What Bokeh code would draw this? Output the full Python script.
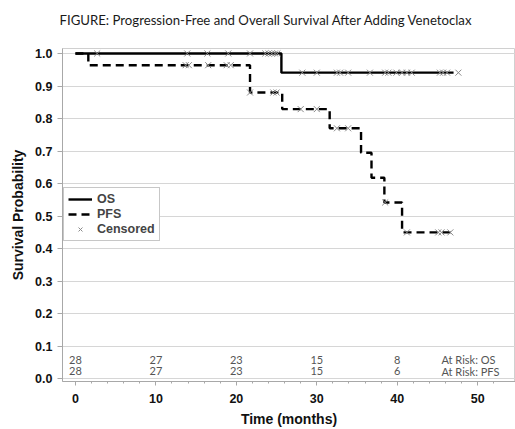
from bokeh.plotting import figure
from bokeh.models import (ColumnDataSource, Range1d, FixedTicker, Legend, LegendItem,
                          NumeralTickFormatter, Title)
from bokeh.core.properties import value
from bokeh.embed import file_html
from bokeh.resources import INLINE

# ---- data ----
os_time = [0, 25.6, 47.0]
os_surv = [1.0, 0.941, 0.941]

pfs_time = [0, 1.6, 21.7, 25.7, 31.6, 35.5, 36.8, 38.4, 40.6, 46.8]
pfs_surv = [1.0, 0.964, 0.880, 0.829, 0.770, 0.695, 0.618, 0.542, 0.450, 0.450]

os_cens_time = [2.7, 13.9, 16.4, 19.0, 21.7, 23.6, 24.0, 24.4, 24.8, 25.1,
                28.2, 30.0, 32.5, 32.9, 33.9, 36.6, 38.5, 38.9, 39.9, 40.6,
                41.2, 41.8, 45.3, 45.7, 46.2, 47.6]
os_cens_surv = [1.0] * 10 + [0.941] * 16

pfs_cens_time = [13.7, 14.1, 16.5, 18.8, 19.3, 21.7, 24.6, 25.0, 28.0, 30.0,
                 32.5, 33.9, 38.5, 41.2, 45.1, 45.5, 46.6]
pfs_cens_surv = [0.964] * 5 + [0.880] * 3 + [0.829] * 2 + [0.770] * 2 + [0.542] + [0.450] * 4

risk_times = [0, 10, 20, 30, 40]
risk_os = [28, 27, 23, 15, 8]
risk_pfs = [28, 27, 23, 15, 6]
risk_label_os = "At Risk: OS"
risk_label_pfs = "At Risk: PFS"

x_ticks = [0, 10, 20, 30, 40, 50]
y_ticks = [0.0, 0.1, 0.2, 0.3, 0.4, 0.5, 0.6, 0.7, 0.8, 0.9, 1.0]

title_text = "FIGURE: Progression-Free and Overall Survival After Adding Venetoclax"

# ---- figure ----
p = figure(width=515, height=429, output_backend="svg", toolbar_location=None, title=None,
           x_range=Range1d(-1.61, 54.7), y_range=Range1d(-0.0083, 1.0153),
           min_border_left=62, min_border_right=0, min_border_top=48, min_border_bottom=47)

# spacer (closest to the frame) then the real title above it
p.add_layout(Title(text=" ", text_font_size="8px", standoff=0), "above")
p.add_layout(Title(text=title_text, text_font="Lato", text_font_size="13.2px",
                   text_font_style="normal", text_color="#1a1a1a", align="left",
                   offset=-3, standoff=18, vertical_align="middle"), "above")

p.outline_line_color = "#d0d0d0"
p.xgrid.grid_line_color = None
p.ygrid.grid_line_color = "#d6d6d6"
p.ygrid.grid_line_width = 1

for ax in (p.xaxis[0], p.yaxis[0]):
    ax.axis_line_color = "#a8a8a8"
    ax.major_tick_line_color = "#a8a8a8"
    ax.minor_tick_line_color = "#a8a8a8"
    ax.major_label_text_font = "Liberation Sans"
    ax.major_label_text_font_style = "bold"
    ax.major_label_text_font_size = "12.5px"
    ax.major_label_text_color = "#111111"
    ax.axis_label_text_font = "Liberation Sans"
    ax.axis_label_text_font_style = "bold"
    ax.axis_label_text_font_size = "14px"
    ax.axis_label_text_color = "#111111"

p.xaxis.ticker = FixedTicker(ticks=x_ticks, minor_ticks=[t for t in range(0, 54, 2)])
p.yaxis.ticker = FixedTicker(ticks=y_ticks, minor_ticks=[])
p.yaxis.formatter = NumeralTickFormatter(format="0.0")
p.xaxis.axis_label = "Time (months)"
p.yaxis.axis_label = "Survival Probability"
p.xaxis.major_tick_out = 4
p.xaxis.minor_tick_out = 2
p.xaxis.minor_tick_in = 0
p.xaxis.major_tick_in = 0
p.xaxis.major_label_standoff = 8
p.xaxis.axis_label_standoff = 5
p.yaxis.major_tick_out = 5
p.yaxis.major_tick_in = 0
p.yaxis.axis_label_standoff = 6

# survival curves
r_os = p.step(os_time, os_surv, mode="after", line_color="black", line_width=2.4)
r_pfs = p.step(pfs_time, pfs_surv, mode="after", line_color="black", line_width=2.4,
               line_dash="8 5")

# censor marks
r_c1 = p.scatter(os_cens_time, os_cens_surv, marker="x", size=8.5, line_color="#8a8a8a",
                 line_width=1)
r_c2 = p.scatter(pfs_cens_time, pfs_cens_surv, marker="x", size=8.5, line_color="#8a8a8a",
                 line_width=1)

# at-risk table
risk_src = ColumnDataSource(dict(
    x=risk_times + risk_times,
    y=[0.058] * len(risk_times) + [0.023] * len(risk_times),
    t=[str(v) for v in risk_os] + [str(v) for v in risk_pfs]))
p.text(x="x", y="y", text="t", source=risk_src, text_align="center", text_baseline="middle",
       text_font=value("Lato"), text_font_size="11px", text_color="#555555")
lab_src = ColumnDataSource(dict(x=[45.5, 45.5], y=[0.058, 0.023], t=[risk_label_os, risk_label_pfs]))
p.text(x="x", y="y", text="t", source=lab_src, text_align="left", text_baseline="middle",
       text_font=value("Lato"), text_font_size="11px", text_color="#555555")

legend = Legend(items=[LegendItem(label="OS", renderers=[r_os]),
                       LegendItem(label="PFS", renderers=[r_pfs]),
                       LegendItem(label="Censored", renderers=[r_c1])],
                location=(1, 140))
legend.label_text_font = "Liberation Sans"
legend.label_text_font_style = "bold"
legend.label_text_font_size = "12.5px"
legend.label_height = 12
legend.glyph_height = 14
legend.glyph_width = 24
legend.spacing = 1
legend.padding = 4
legend.margin = 0
legend.label_standoff = 5
legend.border_line_color = "#909090"
legend.border_line_width = 1.5
legend.background_fill_alpha = 1.0
p.add_layout(legend, "center")

open("out.html", "w").write(file_html(p, INLINE))
